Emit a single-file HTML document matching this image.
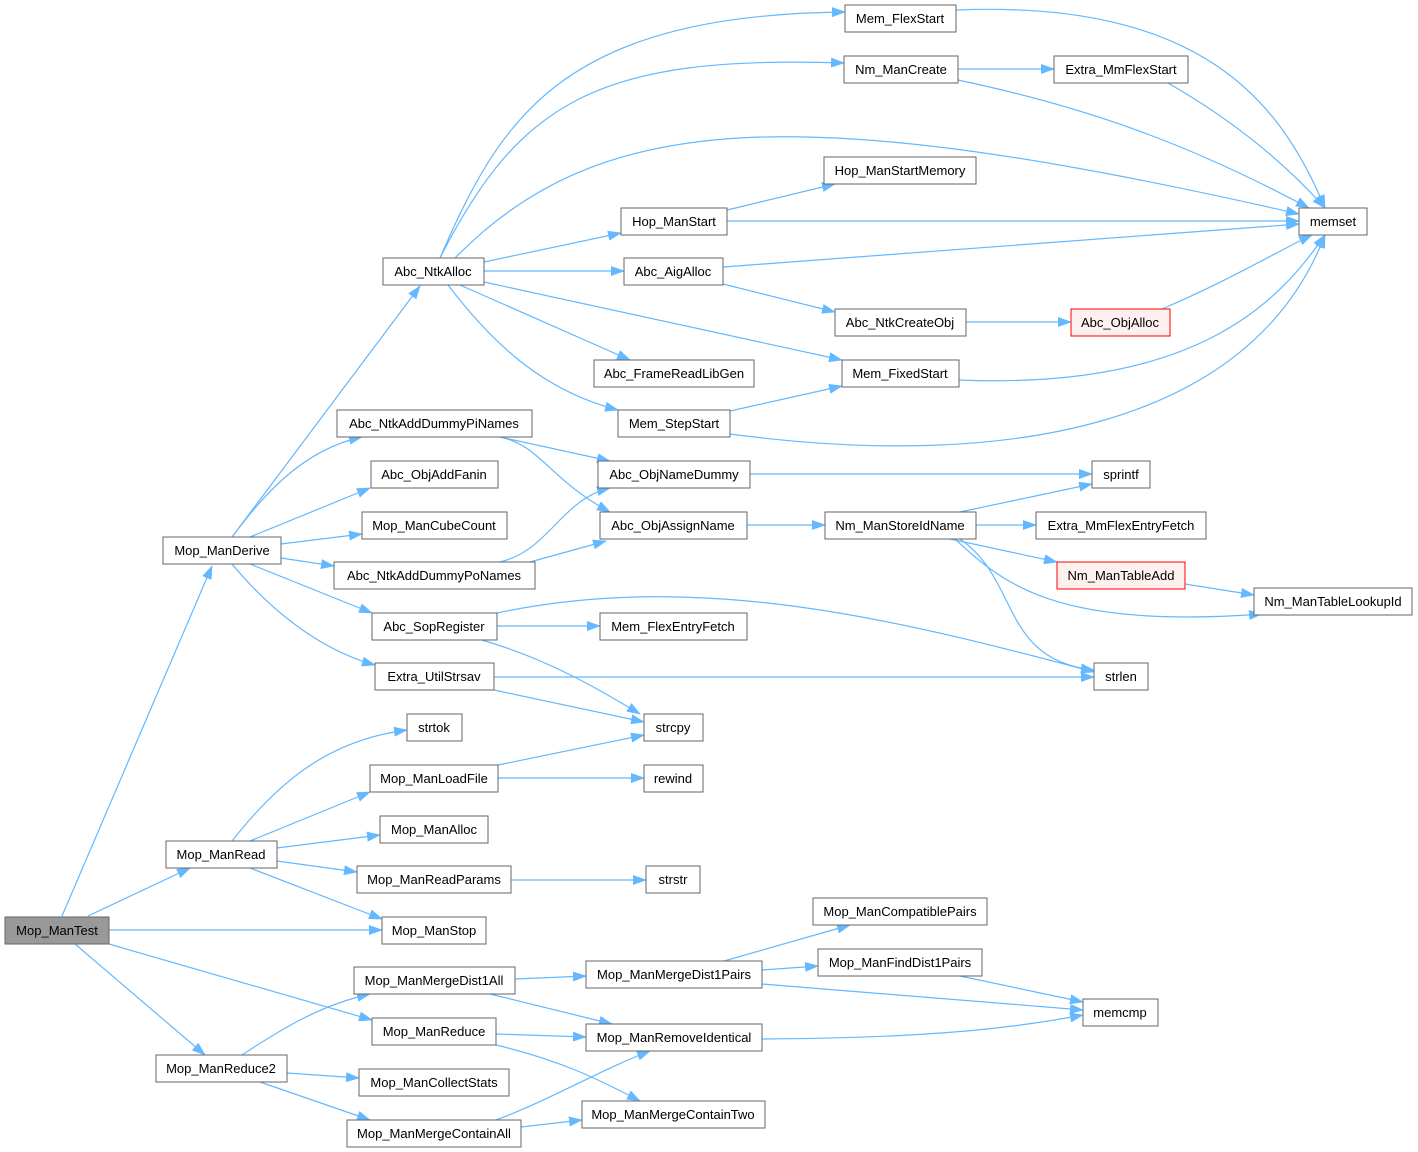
<!DOCTYPE html>
<html><head><meta charset="utf-8"><style>
html,body{margin:0;padding:0;background:#fff;width:1418px;height:1152px;overflow:hidden}
svg text{font-family:"Liberation Sans",Arial,sans-serif;font-size:13px;fill:#000;stroke:none}
</style></head><body>
<svg width="1418" height="1152" viewBox="0 0 1418 1152" xmlns="http://www.w3.org/2000/svg">
<defs><marker id="a" markerWidth="14" markerHeight="10" refX="13" refY="5" orient="auto" markerUnits="userSpaceOnUse"><path d="M0,0 L14,5 L0,10 z" fill="#63b8ff"/></marker></defs>
<g fill="none" stroke="#63b8ff" stroke-width="1.2" marker-end="url(#a)">
<path d="M62,916 L212,566"/>
<path d="M88,916 L190,868"/>
<path d="M109,930 L382,930"/>
<path d="M109,944 L372,1020"/>
<path d="M75,944 L205,1055"/>
<path d="M232,537 L420,286"/>
<path d="M232,537 C260,500 300,450 362,437"/>
<path d="M250,537 L370,488"/>
<path d="M281,544 L362,534"/>
<path d="M281,558 L334,566"/>
<path d="M250,564 L372,613"/>
<path d="M232,564 C270,610 320,650 375,665"/>
<path d="M232,841 C280,780 330,740 407,730"/>
<path d="M250,841 L370,792"/>
<path d="M277,848 L380,835"/>
<path d="M277,861 L357,872"/>
<path d="M250,868 L382,919"/>
<path d="M242,1055 C280,1030 320,1005 370,994"/>
<path d="M287,1073 L359,1078"/>
<path d="M260,1082 L370,1120"/>
<path d="M440,258 C500,120 560,15 845,12"/>
<path d="M440,258 C520,100 600,55 844,63"/>
<path d="M455,258 C600,110 800,100 1299,214"/>
<path d="M484,262 L621,233"/>
<path d="M484,271 L624,271"/>
<path d="M460,285 L630,360"/>
<path d="M484,282 L842,360"/>
<path d="M448,285 C490,340 540,390 618,410"/>
<path d="M958,69 L1054,69"/>
<path d="M958,80 C1100,110 1200,150 1309,208"/>
<path d="M956,10 C1200,0 1280,100 1325,208"/>
<path d="M1168,83 C1250,130 1300,180 1325,208"/>
<path d="M727,210 L835,184"/>
<path d="M727,221 L1299,221"/>
<path d="M723,267 L1299,224"/>
<path d="M723,284 L835,312"/>
<path d="M966,322 L1071,322"/>
<path d="M1162,309 C1230,280 1280,250 1312,235"/>
<path d="M959,380 C1200,390 1280,300 1325,235"/>
<path d="M730,411 L842,386"/>
<path d="M730,434 C1000,470 1250,430 1325,235"/>
<path d="M500,437 L610,461"/>
<path d="M500,437 C540,445 550,480 610,512"/>
<path d="M500,562 C550,550 560,500 610,488"/>
<path d="M530,562 L606,541"/>
<path d="M750,474 L1092,474"/>
<path d="M747,525 L825,525"/>
<path d="M960,512 L1092,484"/>
<path d="M976,525 L1036,525"/>
<path d="M950,539 L1057,562"/>
<path d="M955,539 C1000,580 1050,630 1262,614"/>
<path d="M960,539 C1020,580 1000,660 1094,670"/>
<path d="M1185,584 L1254,595"/>
<path d="M497,626 L600,626"/>
<path d="M497,613 C700,570 900,620 1094,672"/>
<path d="M482,640 C550,660 600,690 640,714"/>
<path d="M494,677 L1094,677"/>
<path d="M494,690 L644,722"/>
<path d="M498,765 L644,735"/>
<path d="M498,778 L644,778"/>
<path d="M511,880 L646,880"/>
<path d="M515,979 L586,976"/>
<path d="M490,994 L612,1024"/>
<path d="M724,961 L850,925"/>
<path d="M762,970 L818,966"/>
<path d="M762,984 L1083,1010"/>
<path d="M960,976 L1083,1002"/>
<path d="M762,1039 C950,1038 1030,1025 1083,1015"/>
<path d="M496,1034 L586,1037"/>
<path d="M496,1045 C560,1060 600,1080 640,1101"/>
<path d="M496,1120 C550,1100 600,1070 650,1051"/>
<path d="M521,1127 L582,1120"/>
</g>
<g stroke="#666" stroke-width="1" fill="#fff" text-anchor="middle">
<rect x="5" y="917" width="104" height="27" fill="#999"/><text x="57" y="935">Mop_ManTest</text>
<rect x="163" y="537" width="118" height="27"/><text x="222" y="555">Mop_ManDerive</text>
<rect x="166" y="841" width="111" height="27"/><text x="221" y="859">Mop_ManRead</text>
<rect x="156" y="1055" width="131" height="27"/><text x="221" y="1073">Mop_ManReduce2</text>
<rect x="383" y="258" width="101" height="27"/><text x="433" y="276">Abc_NtkAlloc</text>
<rect x="337" y="410" width="195" height="27"/><text x="434" y="428">Abc_NtkAddDummyPiNames</text>
<rect x="371" y="461" width="127" height="27"/><text x="434" y="479">Abc_ObjAddFanin</text>
<rect x="362" y="512" width="145" height="27"/><text x="434" y="530">Mop_ManCubeCount</text>
<rect x="334" y="562" width="201" height="27"/><text x="434" y="580">Abc_NtkAddDummyPoNames</text>
<rect x="372" y="613" width="125" height="27"/><text x="434" y="631">Abc_SopRegister</text>
<rect x="375" y="663" width="119" height="27"/><text x="434" y="681">Extra_UtilStrsav</text>
<rect x="407" y="714" width="55" height="27"/><text x="434" y="732">strtok</text>
<rect x="370" y="765" width="128" height="27"/><text x="434" y="783">Mop_ManLoadFile</text>
<rect x="380" y="816" width="108" height="27"/><text x="434" y="834">Mop_ManAlloc</text>
<rect x="357" y="866" width="154" height="27"/><text x="434" y="884">Mop_ManReadParams</text>
<rect x="382" y="917" width="104" height="27"/><text x="434" y="935">Mop_ManStop</text>
<rect x="354" y="967" width="161" height="27"/><text x="434" y="985">Mop_ManMergeDist1All</text>
<rect x="372" y="1018" width="124" height="27"/><text x="434" y="1036">Mop_ManReduce</text>
<rect x="359" y="1069" width="150" height="27"/><text x="434" y="1087">Mop_ManCollectStats</text>
<rect x="347" y="1120" width="174" height="27"/><text x="434" y="1138">Mop_ManMergeContainAll</text>
<rect x="845" y="5" width="111" height="27"/><text x="900" y="23">Mem_FlexStart</text>
<rect x="844" y="56" width="114" height="27"/><text x="901" y="74">Nm_ManCreate</text>
<rect x="1054" y="56" width="134" height="27"/><text x="1121" y="74">Extra_MmFlexStart</text>
<rect x="824" y="157" width="152" height="27"/><text x="900" y="175">Hop_ManStartMemory</text>
<rect x="621" y="208" width="106" height="27"/><text x="674" y="226">Hop_ManStart</text>
<rect x="1299" y="208" width="68" height="27"/><text x="1333" y="226">memset</text>
<rect x="624" y="258" width="99" height="27"/><text x="673" y="276">Abc_AigAlloc</text>
<rect x="835" y="309" width="131" height="27"/><text x="900" y="327">Abc_NtkCreateObj</text>
<rect x="1071" y="309" width="99" height="27" fill="#fff0f0" stroke="#f00"/><text x="1120" y="327">Abc_ObjAlloc</text>
<rect x="594" y="360" width="160" height="27"/><text x="674" y="378">Abc_FrameReadLibGen</text>
<rect x="842" y="360" width="117" height="27"/><text x="900" y="378">Mem_FixedStart</text>
<rect x="618" y="410" width="112" height="27"/><text x="674" y="428">Mem_StepStart</text>
<rect x="598" y="461" width="152" height="27"/><text x="674" y="479">Abc_ObjNameDummy</text>
<rect x="1092" y="461" width="58" height="27"/><text x="1121" y="479">sprintf</text>
<rect x="600" y="512" width="147" height="27"/><text x="673" y="530">Abc_ObjAssignName</text>
<rect x="825" y="512" width="151" height="27"/><text x="900" y="530">Nm_ManStoreIdName</text>
<rect x="1036" y="512" width="170" height="27"/><text x="1121" y="530">Extra_MmFlexEntryFetch</text>
<rect x="1057" y="562" width="128" height="27" fill="#fff0f0" stroke="#f00"/><text x="1121" y="580">Nm_ManTableAdd</text>
<rect x="1254" y="588" width="158" height="27"/><text x="1333" y="606">Nm_ManTableLookupId</text>
<rect x="600" y="613" width="147" height="27"/><text x="673" y="631">Mem_FlexEntryFetch</text>
<rect x="1094" y="663" width="54" height="27"/><text x="1121" y="681">strlen</text>
<rect x="644" y="714" width="59" height="27"/><text x="673" y="732">strcpy</text>
<rect x="644" y="765" width="59" height="27"/><text x="673" y="783">rewind</text>
<rect x="646" y="866" width="54" height="27"/><text x="673" y="884">strstr</text>
<rect x="813" y="898" width="174" height="27"/><text x="900" y="916">Mop_ManCompatiblePairs</text>
<rect x="586" y="961" width="176" height="27"/><text x="674" y="979">Mop_ManMergeDist1Pairs</text>
<rect x="818" y="949" width="164" height="27"/><text x="900" y="967">Mop_ManFindDist1Pairs</text>
<rect x="1083" y="999" width="75" height="27"/><text x="1120" y="1017">memcmp</text>
<rect x="586" y="1024" width="176" height="27"/><text x="674" y="1042">Mop_ManRemoveIdentical</text>
<rect x="582" y="1101" width="183" height="27"/><text x="673" y="1119">Mop_ManMergeContainTwo</text>
</g>
</svg>
</body></html>
